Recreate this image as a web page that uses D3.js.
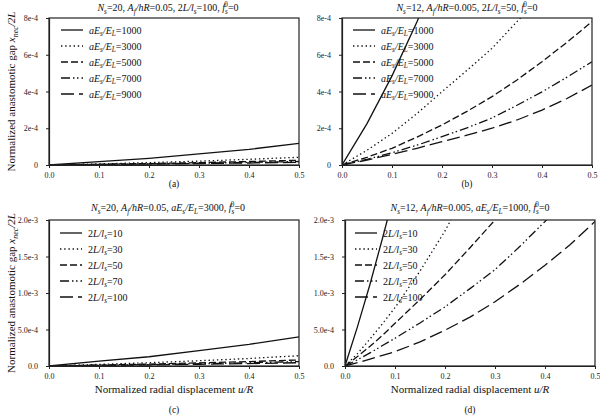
<!DOCTYPE html>
<html>
<head>
<meta charset="utf-8">
<script src="https://cdn.jsdelivr.net/npm/d3@7"></script>
<style>
  body { margin: 0; background: #fff; }
  svg { display: block; font-family: "Liberation Serif", "Times New Roman", serif; }
</style>
</head>
<body>
<svg id="fig" width="600" height="419"></svg>
<script>
// abscissa grids (u/R)
var uCoarse = [0, 0.1, 0.2, 0.3, 0.4, 0.5];
var uB = [0, 0.05, 0.1, 0.15, 0.2, 0.25, 0.3, 0.35, 0.4, 0.45, 0.5];
var uD = [0, 0.025, 0.05, 0.075, 0.1, 0.15, 0.2, 0.25, 0.3, 0.35, 0.4, 0.45, 0.5];

// (a) Ns=20, Af/hR=0.05, 2L/ls=100
var a1000 = [0, 1.8e-5, 3.6e-5, 6.0e-5, 8.5e-5, 1.18e-4];
var a3000 = [0, 6e-6, 1.3e-5, 2.1e-5, 3.1e-5, 4.2e-5];
var a5000 = [0, 4e-6, 8e-6, 1.3e-5, 1.9e-5, 2.6e-5];
var a7000 = [0, 3e-6, 6e-6, 1.0e-5, 1.4e-5, 1.9e-5];
var a9000 = [0, 2e-6, 5e-6, 8e-6, 1.1e-5, 1.5e-5];

// (b) Ns=12, Af/hR=0.005, 2L/ls=50
var b1000 = [0, 2.25e-4, 4.85e-4, 7.8e-4, 1.1e-3];
var b3000 = [0, 8e-5, 1.72e-4, 2.8e-4, 3.99e-4, 5.15e-4, 6.35e-4, 7.8e-4, 9.3e-4];
var b5000 = [0, 4.2e-5, 9.1e-5, 1.52e-4, 2.18e-4, 2.92e-4, 3.72e-4, 4.63e-4, 5.62e-4, 6.68e-4, 7.8e-4];
var b7000 = [0, 3.1e-5, 6.7e-5, 1.08e-4, 1.54e-4, 2.02e-4, 2.56e-4, 3.25e-4, 3.98e-4, 4.78e-4, 5.62e-4];
var b9000 = [0, 2.7e-5, 5.8e-5, 9.1e-5, 1.27e-4, 1.62e-4, 2.0e-4, 2.45e-4, 2.99e-4, 3.62e-4, 4.35e-4];

// (c) Ns=20, Af/hR=0.05, aEs/EL=3000
var c10 = [0, 6.8e-5, 1.27e-4, 2.1e-4, 2.97e-4, 4.0e-4];
var c30 = [0, 2.2e-5, 4.5e-5, 7.2e-5, 1.03e-4, 1.41e-4];
var c50 = [0, 1.3e-5, 2.7e-5, 4.3e-5, 6.1e-5, 8.3e-5];
var c70 = [0, 9e-6, 1.9e-5, 3.1e-5, 4.4e-5, 6.0e-5];
var c100 = [0, 7e-6, 1.4e-5, 2.3e-5, 3.3e-5, 4.5e-5];

// (d) Ns=12, Af/hR=0.005, aEs/EL=1000
var d10 = [0, 5.4e-4, 1.12e-3, 1.75e-3, 2.4e-3];
var d30 = [0, 1.7e-4, 3.7e-4, 5.8e-4, 8.0e-4, 1.3e-3, 1.85e-3, 2.5e-3];
var d50 = [0, 1.3e-4, 2.7e-4, 4.2e-4, 5.85e-4, 9.1e-4, 1.25e-3, 1.62e-3, 2.0e-3, 2.42e-3];
var d70 = [0, 8.5e-5, 1.8e-4, 2.8e-4, 3.8e-4, 5.9e-4, 8.1e-4, 1.06e-3, 1.32e-3, 1.64e-3, 1.98e-3, 2.35e-3];
var d100 = [0, 4.5e-5, 9.5e-5, 1.45e-4, 1.96e-4, 3.3e-4, 4.9e-4, 6.7e-4, 8.8e-4, 1.12e-3, 1.38e-3, 1.66e-3, 1.98e-3];

// ticks
var xTicks = [0, 0.1, 0.2, 0.3, 0.4, 0.5];
var xTickLabels = ["0.0", "0.1", "0.2", "0.3", "0.4", "0.5"];
var yTicksAB = [0, 2e-4, 4e-4, 6e-4, 8e-4];
var yTickLabelsAB = ["0", "2e-4", "4e-4", "6e-4", "8e-4"];
var yTicksCD = [0, 5e-4, 1e-3, 1.5e-3, 2e-3];
var yTickLabelsCD = ["0.0", "5.0e-4", "1.0e-3", "1.5e-3", "2.0e-3"];

var stiffness = ["1000", "3000", "5000", "7000", "9000"];
var lengthRatio = ["10", "30", "50", "70", "100"];

var dashes = [null, "1.4,2.8", "7,3", "9,3,1.5,2.5,1.5,3", "13,5"];

// rich text pieces: [text, style] style: "" roman, "i" italic, "sub" italic subscript, "sup" superscript
function R(t) { return [t, ""]; }
function I(t) { return [t, "i"]; }
function S(t) { return [t, "sub"]; }
function P(t) { return [t, "sup"]; }

function rich(sel, parts) {
    var shift = 0;
    parts.forEach(function(p) {
        var ts = sel.append("tspan").text(p[0]);
        var target = 0;
        if (p[1] == "i") ts.style("font-style", "italic");
        if (p[1] == "sub") { ts.style("font-style", "italic").style("font-size", "0.72em"); target = 2.5; }
        if (p[1] == "sup") { ts.style("font-size", "0.72em").attr("dx", -3.5); target = -4; }
        if (target != shift) { ts.attr("dy", target - shift); shift = target; }
    });
    if (shift != 0) sel.append("tspan").attr("dy", -shift).text("\u200b");
}

function eLabel(v) { return [I("aE"), S("s"), I("/E"), S("L"), R("=" + v)]; }
function lLabel(v) { return [R("2"), I("L/l"), S("s"), R("=" + v)]; }

var titles = {
    a: [I("N"), S("s"), R("=20, "), I("A"), S("f"), I("/hR"), R("=0.05, 2"), I("L/l"), S("s"), R("=100, "), I("f"), S("s"), P("0"), R("=0")],
    b: [I("N"), S("s"), R("=12, "), I("A"), S("f"), I("/hR"), R("=0.005, 2"), I("L/l"), S("s"), R("=50, "), I("f"), S("s"), P("0"), R("=0")],
    c: [I("N"), S("s"), R("=20, "), I("A"), S("f"), I("/hR"), R("=0.05, "), I("aE"), S("s"), I("/E"), S("L"), R("=3000, "), I("f"), S("s"), P("0"), R("=0")],
    d: [I("N"), S("s"), R("=12, "), I("A"), S("f"), I("/hR"), R("=0.005, "), I("aE"), S("s"), I("/E"), S("L"), R("=1000, "), I("f"), S("s"), P("0"), R("=0")]
};

var panels = [
    {id: "a", u: uCoarse, series: [a1000, a3000, a5000, a7000, a9000], names: stiffness.map(eLabel),
     x0: 49, x1: 299, y0: 18, y1: 165, ymax: 8e-4, yt: yTicksAB, yl: yTickLabelsAB, lx: 61, ly: 30, ty: 11, tag: 187},
    {id: "b", u: uB, series: [b1000, b3000, b5000, b7000, b9000], names: stiffness.map(eLabel),
     x0: 342, x1: 592, y0: 18, y1: 165, ymax: 8e-4, yt: yTicksAB, yl: yTickLabelsAB, lx: 353, ly: 30, ty: 11, tag: 187},
    {id: "c", u: uCoarse, series: [c10, c30, c50, c70, c100], names: lengthRatio.map(lLabel),
     x0: 49, x1: 299, y0: 220, y1: 366, ymax: 2e-3, yt: yTicksCD, yl: yTickLabelsCD, lx: 60, ly: 233, ty: 211, tag: 413, xlab: true},
    {id: "d", u: uD, series: [d10, d30, d50, d70, d100], names: lengthRatio.map(lLabel),
     x0: 345, x1: 595, y0: 220, y1: 366, ymax: 2e-3, yt: yTicksCD, yl: yTickLabelsCD, lx: 355, ly: 233, ty: 211, tag: 413, xlab: true}
];

var svg = d3.select("#fig");

panels.forEach(function(p) {
    var x = d3.scaleLinear().domain([0, 0.5]).range([p.x0, p.x1]);
    var y = d3.scaleLinear().domain([0, p.ymax]).range([p.y1, p.y0]);
    var g = svg.append("g");

    g.append("clipPath").attr("id", "clip-" + p.id)
        .append("rect").attr("x", p.x0).attr("y", p.y0)
        .attr("width", p.x1 - p.x0).attr("height", p.y1 - p.y0);

    var line = d3.line().x(function(d, i) { return x(p.u[i]); }).y(function(d) { return y(d); });

    g.append("g").attr("clip-path", "url(#clip-" + p.id + ")")
        .selectAll("path").data(p.series).enter().append("path")
        .attr("d", line)
        .attr("fill", "none")
        .attr("stroke", "#111")
        .attr("stroke-width", 1.3)
        .attr("stroke-dasharray", function(d, i) { return dashes[i]; });

    // frame
    g.append("rect").attr("x", p.x0).attr("y", p.y0)
        .attr("width", p.x1 - p.x0).attr("height", p.y1 - p.y0)
        .attr("fill", "none").attr("stroke", "#222").attr("stroke-width", 1.2);

    var xAxis = g.append("g").attr("transform", "translate(0," + p.y1 + ")")
        .call(d3.axisBottom(x).tickValues(xTicks).tickFormat(function(d, i) { return xTickLabels[i]; })
            .tickSize(3).tickPadding(4).tickSizeOuter(0));
    var yAxis = g.append("g").attr("transform", "translate(" + p.x0 + ",0)")
        .call(d3.axisLeft(y).tickValues(p.yt).tickFormat(function(d, i) { return p.yl[i]; })
            .tickSize(3).tickPadding(8).tickSizeOuter(0));
    [xAxis, yAxis].forEach(function(ax) {
        ax.select(".domain").attr("stroke", "#222").attr("stroke-width", 1.2);
        ax.selectAll(".tick line").attr("stroke", "#222");
        ax.selectAll("text").attr("fill", "#222").style("font-family", "Liberation Serif").style("font-size", "8px");
    });

    // legend
    var leg = g.append("g");
    p.names.forEach(function(n, i) {
        var yy = p.ly + i * 16;
        leg.append("line").attr("x1", p.lx).attr("x2", p.lx + 22).attr("y1", yy).attr("y2", yy)
            .attr("stroke", "#111").attr("stroke-width", 1.3).attr("stroke-dasharray", dashes[i]);
        var t = leg.append("text").attr("x", p.lx + 28).attr("y", yy + 3.5)
            .style("font-size", "10px").attr("fill", "#111");
        rich(t, n);
    });

    // title
    var tt = g.append("text").attr("x", (p.x0 + p.x1) / 2 - (p.id == "a" || p.id == "c" ? 6 : 0)).attr("y", p.ty)
        .attr("text-anchor", "middle").style("font-size", "10px").attr("fill", "#111");
    rich(tt, titles[p.id]);

    if (p.xlab) {
        var xl = g.append("text").attr("x", (p.x0 + p.x1) / 2).attr("y", 393)
            .attr("text-anchor", "middle").style("font-size", "11px").attr("fill", "#111");
        rich(xl, [R("Normalized radial displacement "), I("u/R")]);
    }

    g.append("text").attr("x", (p.x0 + p.x1) / 2).attr("y", p.tag)
        .attr("text-anchor", "middle").style("font-size", "9.5px").attr("fill", "#111")
        .text("(" + p.id + ")");

    if (p.id == "a" || p.id == "c") {
        var yl = g.append("text")
            .attr("transform", "translate(15," + ((p.y0 + p.y1) / 2) + ") rotate(-90)")
            .attr("text-anchor", "middle").style("font-size", "11px").attr("fill", "#111");
        rich(yl, [R("Normalized anastomotic gap "), I("x"), S("nec"), I("/2L")]);
    }
});
</script>
</body>
</html>
